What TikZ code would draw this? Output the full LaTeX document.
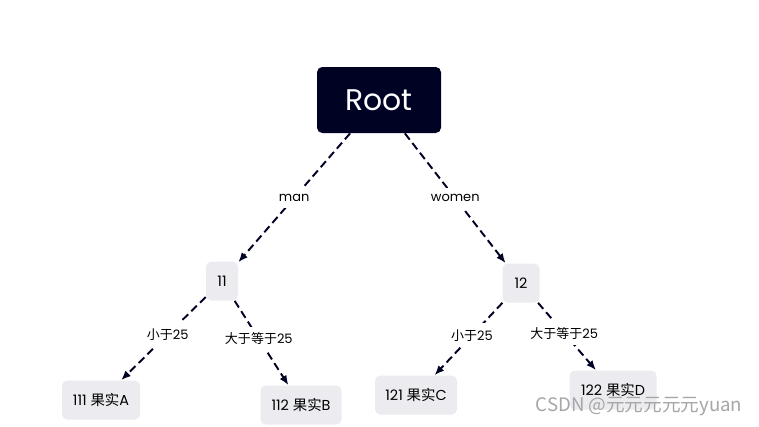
\documentclass[tikz,border=0pt]{standalone}
\usepackage{fontspec}
\setmainfont{Poppins}
\newfontfamily\cjk{Noto Sans CJK SC}
\usetikzlibrary{arrows.meta}
\definecolor{rootblue}{HTML}{000224}
\definecolor{leafgray}{HTML}{ECEBEF}
\tikzset{
  rootbox/.style={fill=rootblue,text=white,rounded corners=3pt,minimum width=124*0.02cm,minimum height=66*0.02cm,font=\fontsize{17}{17}\selectfont},
  leafbox/.style={fill=leafgray,rounded corners=3pt,minimum height=39*0.02cm,inner xsep=4pt,font=\fontsize{8.2}{9}\selectfont},
  edge/.style={dash pattern=on 4.5pt off 2.5pt,line width=1.1pt,rootblue,-{Latex[length=5.5pt,width=4.5pt]}},
  tag/.style={fill=white,text=black,inner xsep=1pt,inner ysep=3.5pt,font=\fontsize{7.4}{8}\selectfont}
}
\begin{document}
\begin{tikzpicture}[x=0.02cm,y=-0.02cm]
  \useasboundingbox[fill=white] (0,0) rectangle (759,426);
  \node[rootbox] (root) at (379,100) {Root};
  \node[leafbox,minimum width=32*0.02cm] (n11) at (222,281) {11};
  \node[leafbox,minimum width=37*0.02cm] (n12) at (521,283) {12};
  \node[leafbox,minimum width=78*0.02cm] (n111) at (101,400) {111 {\cjk 果实}A};
  \node[leafbox,minimum width=81*0.02cm] (n112) at (301,405) {112 {\cjk 果实}B};
  \node[leafbox,minimum width=82*0.02cm] (n121) at (416,395) {121 {\cjk 果实}C};
  \node[leafbox,minimum width=87*0.02cm] (n122) at (613,390) {122 {\cjk 果实}D};
  % edges
  \draw[edge] (root) -- node[tag] {man} (n11);
  \draw[edge] (root) -- node[tag] {women} (n12);
  \draw[edge] (n11) -- node[tag,pos=0.45] {{\cjk 小于}25} (n111);
  \draw[edge] (n11) -- node[tag,pos=0.45] {{\cjk 大于等于}25} (n112);
  \draw[edge] (n12) -- node[tag,pos=0.45] {{\cjk 小于}25} (n121);
  \draw[edge] (n12) -- node[tag,pos=0.45] {{\cjk 大于等于}25} (n122);
  % watermark
  \node[text=gray!70,font=\cjk\fontsize{10.6}{11}\selectfont] (mark) at (639,407) {CSDN @元元元元元yuan};
\end{tikzpicture}
\end{document}
